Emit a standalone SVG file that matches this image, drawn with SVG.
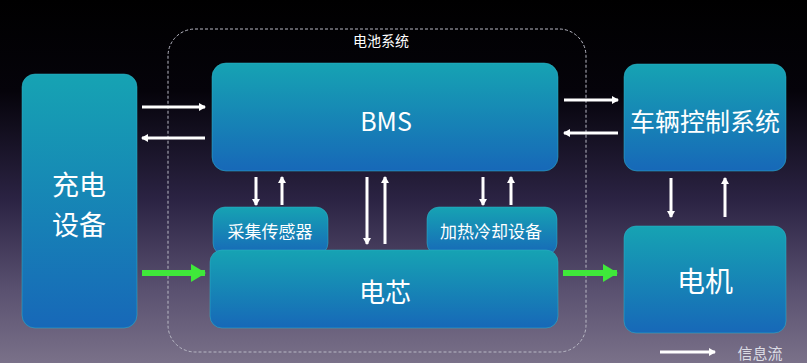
<svg xmlns="http://www.w3.org/2000/svg" width="807" height="363" viewBox="0 0 807 363">
<defs>
<linearGradient id="bg" x1="0" y1="0" x2="0" y2="1">
<stop offset="0" stop-color="#000000"/>
<stop offset="0.25" stop-color="#05030a"/>
<stop offset="0.55" stop-color="#2b2343"/>
<stop offset="0.8" stop-color="#5a5170"/>
<stop offset="1" stop-color="#7a7189"/>
</linearGradient>
<linearGradient id="box" x1="0" y1="0" x2="0" y2="1">
<stop offset="0" stop-color="#16a3b3"/>
<stop offset="1" stop-color="#1768b8"/>
</linearGradient>
<marker id="wh" markerWidth="8" markerHeight="8" refX="6" refY="4" orient="auto" markerUnits="userSpaceOnUse">
<path d="M0,0 L7,4 L0,8 Z" fill="#ffffff"/>
</marker>
<marker id="gh" markerWidth="16" markerHeight="18" refX="14" refY="9" orient="auto" markerUnits="userSpaceOnUse">
<path d="M0,0 L15,9 L0,18 Z" fill="#3fe83a"/>
</marker>
</defs>
<style>
.node rect{fill:url(#box);stroke:#2fb6c8;stroke-width:1;stroke-opacity:0.5}
.t{fill:#ffffff;font-family:"Noto Sans CJK SC","Noto Sans",sans-serif;text-anchor:middle;dominant-baseline:central}
.w{stroke:#ffffff;stroke-width:3;fill:none;marker-end:url(#wh)}
.g{stroke:#3fe83a;stroke-width:6;fill:none;marker-end:url(#gh)}
</style>
<rect width="807" height="363" fill="url(#bg)"/>
<g id="battery-system">
<rect x="168" y="29" width="418" height="323" rx="27" fill="none" stroke="#b8b8c4" stroke-width="1" stroke-dasharray="3,2"/>
<text class="t" x="381" y="40" font-size="14" fill="#e8e8e8">电池系统</text>
</g>
<g id="charger" class="node">
<rect x="22" y="74" width="115" height="254" rx="13"/>
<text class="t" x="79" y="183" font-size="27">充电</text>
<text class="t" x="79" y="223" font-size="27">设备</text>
</g>
<g id="bms" class="node">
<rect x="212" y="63" width="346" height="108" rx="14"/>
<text class="t" x="386" y="120" font-size="25">BMS</text>
</g>
<g id="vcu" class="node">
<rect x="624" y="64" width="162" height="107" rx="13"/>
<text class="t" x="705" y="120" font-size="25">车辆控制系统</text>
</g>
<g id="sensor" class="node">
<rect x="213" y="207" width="115" height="48" rx="12"/>
<text class="t" x="270" y="230" font-size="17">采集传感器</text>
</g>
<g id="thermal" class="node">
<rect x="427" y="207" width="130" height="48" rx="12"/>
<text class="t" x="491" y="230" font-size="17">加热冷却设备</text>
</g>
<g id="cell" class="node">
<rect x="210" y="250" width="348" height="78" rx="12"/>
<text class="t" x="385" y="290" font-size="26">电芯</text>
</g>
<g id="motor" class="node">
<rect x="624" y="226" width="162" height="107" rx="12"/>
<text class="t" x="705" y="280" font-size="28">电机</text>
</g>
<g id="connectors">
<line class="w" x1="142" y1="107" x2="205" y2="107"/>
<line class="w" x1="205" y1="138" x2="142" y2="138"/>
<line class="w" x1="564" y1="100" x2="618" y2="100"/>
<line class="w" x1="618" y1="133" x2="564" y2="133"/>
<line class="w" x1="671" y1="178" x2="671" y2="217"/>
<line class="w" x1="725" y1="217" x2="725" y2="178"/>
<line class="w" x1="256" y1="177" x2="256" y2="205"/>
<line class="w" x1="282" y1="205" x2="282" y2="177"/>
<line class="w" x1="367" y1="177" x2="367" y2="244"/>
<line class="w" x1="385" y1="244" x2="385" y2="177"/>
<line class="w" x1="483" y1="177" x2="483" y2="205"/>
<line class="w" x1="511" y1="205" x2="511" y2="177"/>
<line class="g" x1="142" y1="273" x2="205" y2="273"/>
<line class="g" x1="563" y1="273" x2="617" y2="273"/>
</g>
<g id="legend">
<line class="w" x1="660" y1="352" x2="715" y2="352"/>
<text class="t" x="760" y="352" font-size="15" style="fill:#dcdce4">信息流</text>
</g>
</svg>
